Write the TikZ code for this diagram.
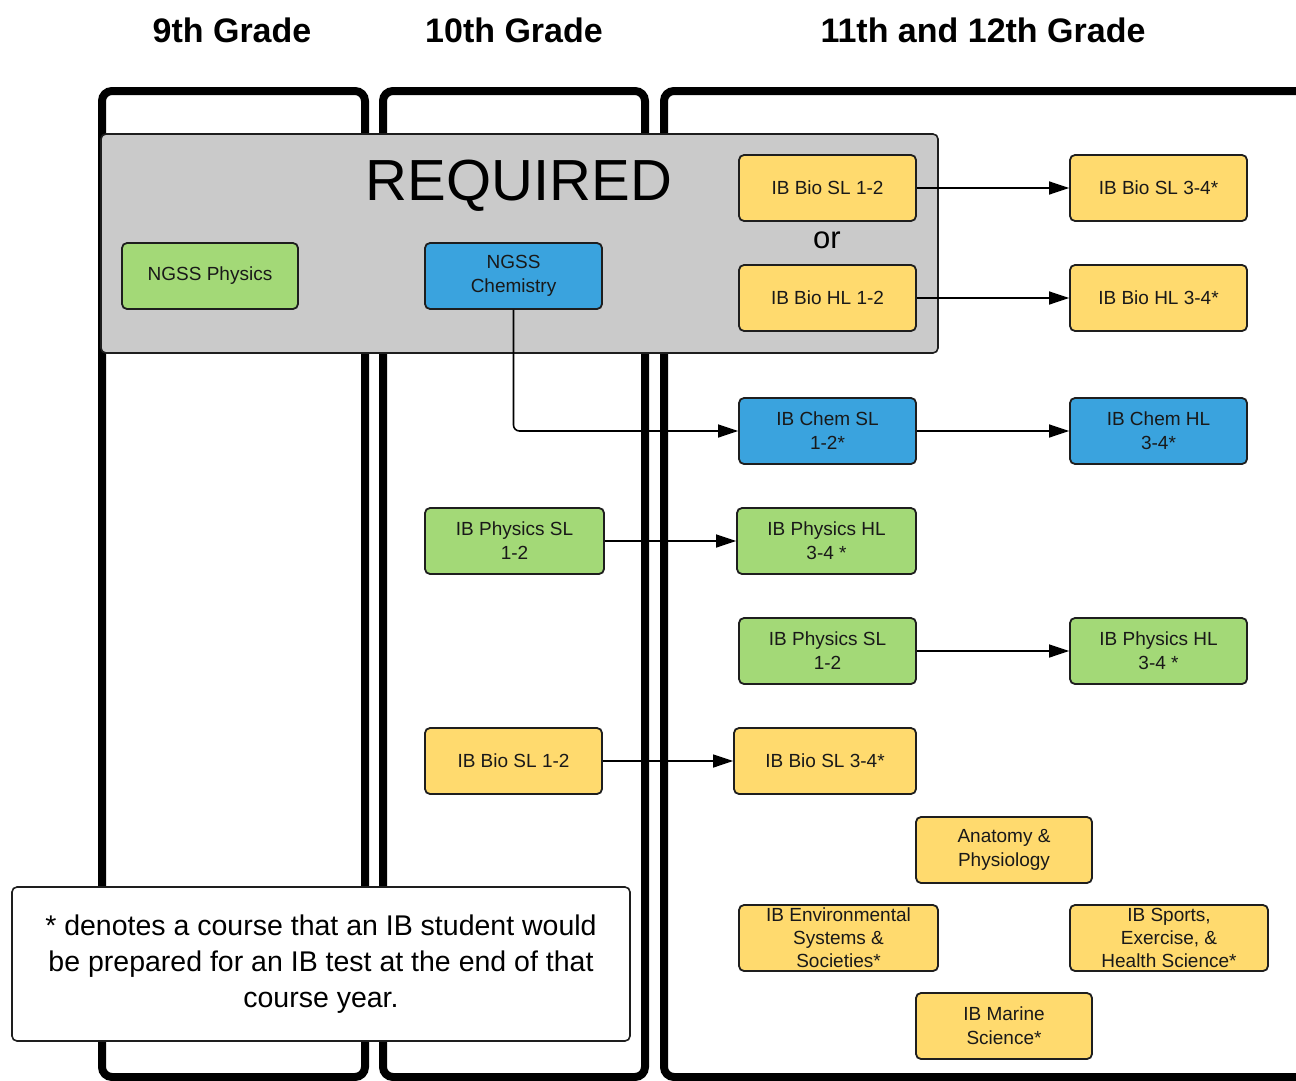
\documentclass[tikz,border=0pt]{standalone}
\usepackage{fontspec}
\setmainfont{Liberation Sans}
\usetikzlibrary{arrows.meta}
\definecolor{cgreen}{RGB}{163,217,119}
\definecolor{cblue}{RGB}{58,163,222}
\definecolor{cyellow}{RGB}{255,218,110}
\definecolor{reqgray}{RGB}{202,202,202}
\definecolor{edge}{RGB}{30,30,30}
\tikzset{
  panel/.style={draw=black, line width=8pt, rounded corners=10pt},
  reqbox/.style={draw=edge, line width=1.6pt, fill=reqgray, rounded corners=5pt},
  course/.style={draw=edge, line width=1.8pt, rounded corners=5pt, align=center,
    inner sep=0pt, minimum width=177pt, minimum height=66pt,
    font=\fontsize{19}{24}\selectfont, text=black!90},
  greenc/.style={course, fill=cgreen},
  bluec/.style={course, fill=cblue},
  yellowc/.style={course, fill=cyellow},
  title/.style={font=\fontsize{34}{40}\selectfont\bfseries},
  conn/.style={draw=black, line width=1.6pt, -{Triangle[length=20pt,width=13pt]}},
}
\begin{document}
\begin{tikzpicture}[x=1pt,y=-1pt]
\useasboundingbox (0,0) rectangle (1296,1081);
% titles
\node[title] (t9) at (232,30) {9th Grade};
\node[title] (t10) at (514,30) {10th Grade};
\node[title] (t11) at (983,30) {11th and 12th Grade};
% panels
\draw[panel] (102,91) rectangle (365,1077);
\draw[panel] (383,91) rectangle (645,1077);
\draw[panel] (664,91) rectangle (1320,1077);
% required box
\draw[reqbox] (101,134) rectangle (938,353);
\node[font=\fontsize{58}{64}\selectfont] (req) at (519,186) {REQUIRED};
\node[font=\fontsize{31}{36}\selectfont] (or) at (827,240) {or};
% required courses
\node[greenc, minimum width=176pt] (ngssP) at (210,276) {NGSS Physics};
\node[bluec] (ngssC) at (513.5,276) {NGSS\\Chemistry};
\node[yellowc] (bioSL12) at (827.5,188) {IB Bio SL 1-2};
\node[yellowc] (bioHL12) at (827.5,298) {IB Bio HL 1-2};
\node[yellowc] (bioSL34) at (1158.5,188) {IB Bio SL 3-4*};
\node[yellowc] (bioHL34) at (1158.5,298) {IB Bio HL 3-4*};
% chem
\node[bluec] (chemSL) at (827.5,431) {IB Chem SL\\1-2*};
\node[bluec] (chemHL) at (1158.5,431) {IB Chem HL\\3-4*};
% physics
\node[greenc, minimum width=179pt] (physSL10) at (514.5,541) {IB Physics SL\\1-2};
\node[greenc, minimum width=179pt] (physHL1) at (826.5,541) {IB Physics HL\\3-4 *};
\node[greenc] (physSL11) at (827.5,651) {IB Physics SL\\1-2};
\node[greenc] (physHL2) at (1158.5,651) {IB Physics HL\\3-4 *};
% bio
\node[yellowc] (bioSL10) at (513.5,761) {IB Bio SL 1-2};
\node[yellowc, minimum width=182pt] (bioSL34b) at (825,761) {IB Bio SL 3-4*};
% electives
\node[yellowc, minimum width=176pt] (anat) at (1004,850) {Anatomy \&\\Physiology};
\node[yellowc, minimum width=199pt, font=\fontsize{19}{23}\selectfont] (env) at (838.5,938) {IB Environmental\\Systems \&\\Societies*};
\node[yellowc, minimum width=198pt, font=\fontsize{19}{23}\selectfont] (sports) at (1169,938) {IB Sports,\\Exercise, \&\\Health Science*};
\node[yellowc, minimum width=176pt] (marine) at (1004,1026) {IB Marine\\Science*};
% connectors
\draw[conn] (bioSL12.east) -- (bioSL34.west);
\draw[conn] (bioHL12.east) -- (bioHL34.west);
\draw[conn, rounded corners=6pt] (ngssC.south) |- (chemSL.west);
\draw[conn] (chemSL.east) -- (chemHL.west);
\draw[conn] (physSL10.east) -- (physHL1.west);
\draw[conn] (physSL11.east) -- (physHL2.west);
\draw[conn] (bioSL10.east) -- (bioSL34b.west);
% legend
\node[draw=edge, line width=1.6pt, fill=white, rounded corners=5pt,
  minimum width=618pt, minimum height=154pt, inner sep=0pt, align=center,
  font=\fontsize{28.5}{36}\selectfont] (legend) at (321,964)
  {* denotes a course that an IB student would\\be prepared for an IB test at the end of that\\course year.};
\end{tikzpicture}
\end{document}
